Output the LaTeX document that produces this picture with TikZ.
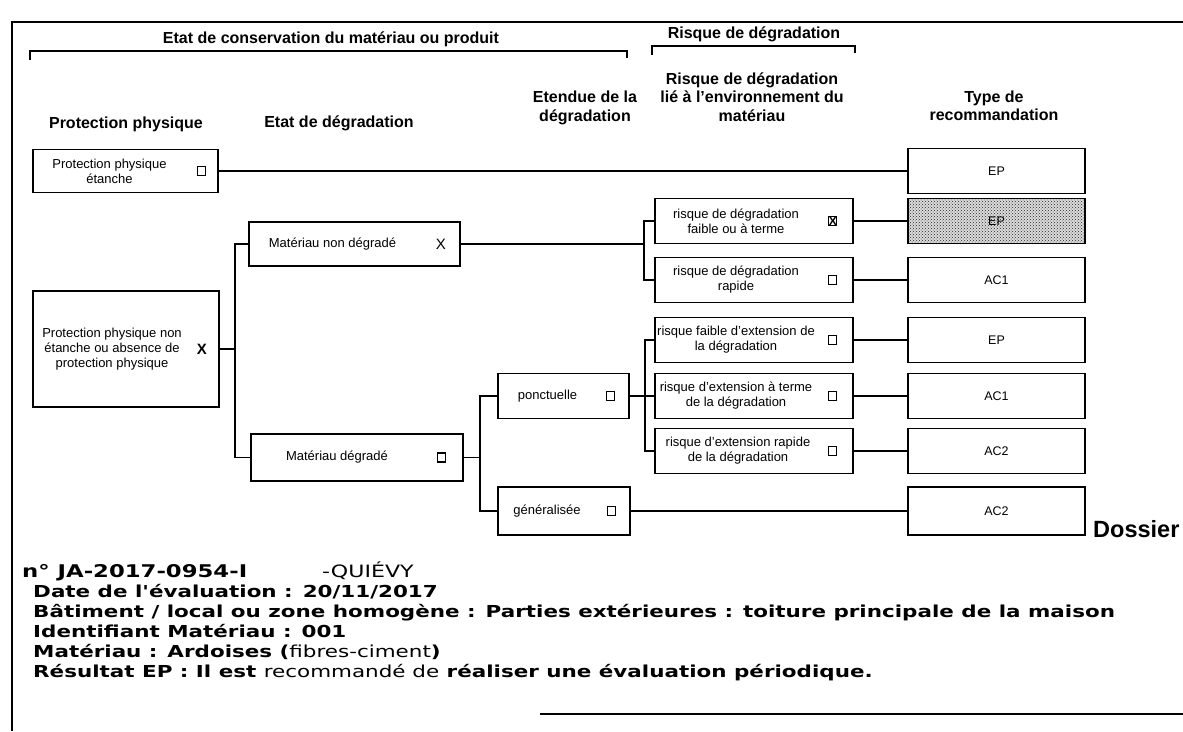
\documentclass[tikz,border=0pt]{standalone}
\usepackage{fontspec}
\setmainfont{Liberation Sans}
\newfontfamily\verdfont[FakeStretch=1.3]{DejaVu Sans}
\usetikzlibrary{positioning, calc, patterns}

\begin{document}
\begin{tikzpicture}[x=1pt, y=-1pt,
    box/.style={rectangle, draw, line width=1.5pt, inner sep=0pt},
    boxtext/.style={align=center, font=\fontsize{13}{15}\selectfont, inner sep=0pt},
    rec/.style={box, minimum width=177pt, minimum height=45pt, font=\fontsize{12.5}{14}\selectfont},
    risk/.style={box, minimum width=198pt, minimum height=45pt},
    colhead/.style={align=center, font=\bfseries\fontsize{16}{18.5}\selectfont},
    grphead/.style={font=\bfseries\fontsize{16}{18}\selectfont},
    chkbox/.style={draw, line width=1.1pt, minimum width=8pt, minimum height=9pt, inner sep=0pt},
    cross/.style={font=\bfseries\fontsize{15}{15}\selectfont, inner sep=0pt},
    link/.style={line width=1.4pt},
    frame/.style={line width=1.1pt},
    info/.style={anchor=base west, font=\verdfont\bfseries\fontsize{16.5}{20}\selectfont, inner sep=0pt}
  ]
\useasboundingbox (0,0) rectangle (1183,731);

% Frame and group headers
\draw[frame] (12,731) -- (12,22) -- (1183,22);
\draw[frame] (540,714) -- (1183,714);
\node[grphead] (hcons) at (331,39) {Etat de conservation du matériau ou produit};
\node[grphead] (hrisk) at (754,34) {Risque de dégradation};
\draw[frame] (30,60) -- (30,51) -- (627,51) -- (627,58);
\draw[frame] (652,55) -- (652,46) -- (855,46) -- (855,53);

% Column headers
\node[colhead] (hprot) at (126,124) {Protection physique};
\node[colhead] (hetat) at (339,123) {Etat de dégradation};
\node[colhead] (hetend) at (585,108) {Etendue de la\\dégradation};
\node[colhead] (hrenv) at (752,97) {Risque de dégradation\\lié à l'environnement du\\matériau};
\node[colhead] (htype) at (994,106) {Type de\\recommandation};

% Protection physique
\node[box, minimum width=185pt, minimum height=43pt] (ppe) at (125.5,171) {};
\node[boxtext] (ppeT) at ([xshift=-16]ppe.center) {Protection physique\\étanche};
\node[chkbox] (ppeC) at ([xshift=-17]ppe.east) {};
\node[box, minimum width=186pt, minimum height=116pt] (ppne) at (126,349) {};
\node[boxtext] (ppneT) at ([xshift=-14]ppne.center) {Protection physique non\\étanche ou absence de\\protection physique};
\node[cross] (ppneC) at ([xshift=-18]ppne.east) {X};

% Etat de degradation
\node[box, minimum width=211pt, minimum height=44pt] (mnd) at (354.5,244) {};
\node[boxtext] (mndT) at ([xshift=-22]mnd.center) {Matériau non dégradé};
\node[cross, font=\fontsize{15}{15}\selectfont] (mndC) at ([xshift=-20]mnd.east) {X};
\node[box, minimum width=212pt, minimum height=47pt] (md) at (357,457.5) {};
\node[boxtext] (mdT) at ([xshift=-20]md.center) {Matériau dégradé};
\node[chkbox] (mdC) at ([xshift=-22]md.east) {};

% Etendue
\node[box, minimum width=131pt, minimum height=45pt] (ponc) at (563.5,396) {};
\node[boxtext] (poncT) at ([xshift=-16]ponc.center) {ponctuelle};
\node[chkbox] (poncC) at ([xshift=-19]ponc.east) {};
\node[box, minimum width=132pt, minimum height=48pt] (gen) at (564,511) {};
\node[boxtext] (genT) at ([xshift=-17]gen.center) {généralisée};
\node[chkbox] (genC) at ([xshift=-19]gen.east) {};

% Risque
\node[risk] (rdf) at (754,221) {};
\node[boxtext] (rdfT) at ([xshift=-18]rdf.center) {risque de dégradation\\faible ou à terme};
\node[chkbox, font=\bfseries\fontsize{12}{12}\selectfont] (rdfC) at ([xshift=-21]rdf.east) {X};
\node[risk] (rdr) at (754,280) {};
\node[boxtext] (rdrT) at ([xshift=-18]rdr.center) {risque de dégradation\\rapide};
\node[chkbox] (rdrC) at ([xshift=-21]rdr.east) {};
\node[risk] (rfe) at (754,340) {};
\node[boxtext] (rfeT) at ([xshift=-18]rfe.center) {risque faible d'extension de\\la dégradation};
\node[chkbox] (rfeC) at ([xshift=-21]rfe.east) {};
\node[risk] (ret) at (754,396) {};
\node[boxtext] (retT) at ([xshift=-18]ret.center) {risque d'extension à terme\\de la dégradation};
\node[chkbox] (retC) at ([xshift=-21]ret.east) {};
\node[risk] (rer) at (754,451) {};
\node[boxtext] (rerT) at ([xshift=-16]rer.center) {risque d'extension rapide\\de la dégradation};
\node[chkbox] (rerC) at ([xshift=-21]rer.east) {};

% Type de recommandation
\node[rec] (ep1) at (996.5,171) {EP};
\node[rec, preaction={fill=black!14}, pattern=crosshatch dots, pattern color=black!85] (cp) at (996.5,221) {EP};
\node[rec] (ac1) at (996.5,280) {AC1};
\node[rec] (ep2) at (996.5,340) {EP};
\node[rec] (ac1b) at (996.5,396) {AC1};
\node[rec] (ac2) at (996.5,451) {AC2};
\node[rec, minimum height=48pt] (ac2b) at (996.5,511) {AC2};

% Connectors
\coordinate (busA) at (235,349);
\coordinate (busB) at (644,244);
\coordinate (busC) at (480,457.5);
\coordinate (busD) at (645,396);
\draw[link] (ppe) -- (ep1);
\draw[link] (ppne.east) -- (busA);
\draw[link] (mnd.west) -| (busA) |- (md.west);
\draw[link] (mnd.east) -- (busB);
\draw[link] (rdf.west) -| (busB) |- (rdr.west);
\draw[link] (md.east) -- (busC);
\draw[link] (ponc.west) -| (busC) |- (gen.west);
\draw[link] (ponc.east) -- (busD);
\draw[link] (rfe.west) -| (busD) |- (rer.west);
\draw[link] (busD) -- (ret.west);
\draw[link] (rdf) -- (cp);
\draw[link] (rdr) -- (ac1);
\draw[link] (rfe) -- (ep2);
\draw[link] (ret) -- (ac1b);
\draw[link] (rer) -- (ac2);
\draw[link] (gen) -- (ac2b);

% Dossier block
\node[anchor=base west, font=\bfseries\fontsize{23.5}{25}\selectfont, inner sep=0pt] (dossier) at (1093,537) {Dossier};
\node[info, font=\verdfont\bfseries\fontsize{17.5}{20}\selectfont] (dossno) at (22,577) {n° JA-2017-0954-I};
\node[info, font=\verdfont\fontsize{17}{20}\selectfont] (dossville) at (322,577) {-QUIÉVY};
\node[info] (ldate) at (33,597) {Date de l'évaluation : 20/11/2017};
\node[info] (lbat) at (33,617) {Bâtiment / local ou zone homogène : Parties extérieures : toiture principale de la maison};
\node[info] (lid) at (33,637) {Identifiant Matériau : 001};
\node[info] (lmat) at (33,657) {Matériau : Ardoises ({\mdseries fibres-ciment})};
\node[info] (lres) at (33,677) {Résultat EP : Il est {\mdseries recommandé de} réaliser une évaluation périodique.};

\end{tikzpicture}
\end{document}
